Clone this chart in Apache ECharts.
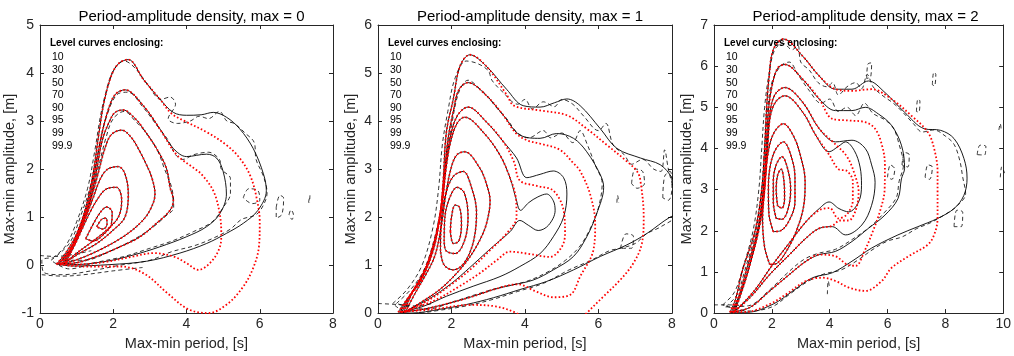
<!DOCTYPE html>
<html>
<head>
<meta charset="utf-8">
<title>Period-amplitude density</title>
<script src="https://cdn.jsdelivr.net/npm/echarts@6/dist/echarts.min.js"></script>
<style>
  html, body { margin: 0; padding: 0; background: #fff; }
  #chart { width: 1014px; height: 356px; }
</style>
</head>
<body>
<div id="chart"></div>
<script>
// titles, levels and axis ranges
var titles = ['Period-amplitude density, max = 0', 'Period-amplitude density, max = 1', 'Period-amplitude density, max = 2'];
var levels = ['10', '30', '50', '70', '90', '95', '99', '99.9'];
var xMax = [8, 8, 10];
var yMin = [-1, 0, 0];
var yMax = [5, 6, 7];

// ---- panel 1 (max = 0) : curves for levels 10..99.9, [period, amplitude]
var p1L10 = [[1.55,0.8],[1.68,0.95],[1.8,0.98],[1.83,0.85],[1.72,0.75],[1.55,0.8]];
var p1L30 = [[1.25,0.55],[1.45,0.85],[1.65,1.1],[1.82,1.21],[1.97,1.1],[1.95,0.85],[1.75,0.65],[1.45,0.5],[1.25,0.55]];
var p1L50 = [[0.7,0.05],[1.0,0.5],[1.3,1.0],[1.55,1.35],[1.8,1.58],[2.09,1.62],[2.23,1.35],[2.14,1.0],[1.82,0.73],[1.36,0.45],[0.95,0.22],[0.7,0.05]];
var p1L70 = [[0.65,0.04],[0.95,0.45],[1.2,0.9],[1.45,1.4],[1.65,1.8],[1.85,2.0],[2.14,2.05],[2.32,1.9],[2.41,1.48],[2.32,1.0],[2.0,0.73],[1.55,0.45],[1.09,0.25],[0.65,0.04]];
var p1L90 = [[0.6,0.03],[0.9,0.4],[1.15,0.85],[1.4,1.4],[1.6,1.95],[1.78,2.45],[1.95,2.72],[2.23,2.81],[2.5,2.65],[2.73,2.36],[2.9,2.1],[3.05,1.83],[3.14,1.48],[3.0,1.14],[2.73,0.87],[2.27,0.59],[1.64,0.32],[1.0,0.11],[0.6,0.03]];
var p1L95 = [[0.55,0.03],[0.85,0.35],[1.1,0.75],[1.35,1.3],[1.55,2.0],[1.7,2.6],[1.9,3.0],[2.05,3.18],[2.27,3.23],[2.6,3.05],[2.82,2.84],[3.18,2.43],[3.45,2.02],[3.55,1.62],[3.64,1.35],[3.55,1.14],[3.18,0.87],[2.73,0.59],[2.18,0.38],[1.55,0.18],[0.91,0.04],[0.55,0.03]];
var p1L99 = [[0.5,0.03],[0.8,0.3],[1.05,0.7],[1.3,1.25],[1.5,1.95],[1.65,2.6],[1.85,3.2],[2.05,3.55],[2.32,3.65],[2.82,3.32],[3.27,2.84],[3.64,2.43],[4.0,2.26],[4.55,2.31],[4.82,2.23],[5.0,1.95],[5.09,1.48],[4.91,1.07],[4.55,0.8],[4.0,0.59],[3.27,0.38],[2.55,0.21],[1.82,0.08],[0.91,0.01],[0.5,0.03]];
var p1L999 = [[0.45,0.02],[0.7,0.25],[1.0,0.65],[1.25,1.2],[1.45,1.9],[1.6,2.7],[1.75,3.4],[1.95,3.95],[2.15,4.2],[2.41,4.28],[2.82,3.87],[3.27,3.46],[3.64,3.18],[4.0,3.12],[4.4,3.13],[4.73,3.18],[5.09,3.08],[5.45,2.84],[5.82,2.43],[6.1,1.9],[6.18,1.55],[5.95,1.14],[5.55,0.87],[5.09,0.66],[4.55,0.45],[3.82,0.25],[2.91,0.08],[1.91,0.01],[0.9,-0.02],[0.45,0.02]];
var p1Red99 = [[0.5,0.03],[0.8,0.3],[1.05,0.7],[1.3,1.25],[1.5,1.95],[1.65,2.6],[1.85,3.2],[2.05,3.55],[2.32,3.65],[2.82,3.32],[3.3,2.8],[3.73,2.3],[4.18,2.03],[4.4,1.9],[4.73,1.55],[4.9,1.1],[4.95,0.66],[4.9,0.35],[4.64,0.04],[4.32,-0.1],[4.0,0.04],[3.64,0.18],[3.1,0.25],[2.55,0.18],[1.82,0.07],[0.91,0.01],[0.5,0.03]];
var p1Red999 = [[0.45,0.02],[0.7,0.25],[1.0,0.65],[1.25,1.2],[1.45,1.9],[1.6,2.7],[1.75,3.4],[1.95,3.95],[2.15,4.2],[2.41,4.28],[2.82,3.87],[3.27,3.46],[3.6,3.15],[4.0,2.98],[4.55,2.77],[5.09,2.5],[5.45,2.23],[5.73,1.88],[5.9,1.45],[6.0,0.9],[5.98,0.4],[5.8,-0.1],[5.5,-0.5],[5.1,-0.82],[4.6,-1.0],[4.05,-0.92],[3.5,-0.6],[2.85,-0.18],[2.2,-0.03],[1.2,-0.03],[0.45,0.02]];
var p1Dash = [
  [[0.35,0.15],[0.7,0.4],[1.0,0.9],[1.3,1.6],[1.5,2.4],[1.65,3.1],[1.8,3.6],[2.0,4.05],[2.3,4.25],[2.6,4.1],[2.95,3.75],[3.3,3.45],[3.55,3.5],[3.7,3.35],[3.5,3.05],[3.75,2.95],[4.1,3.0],[4.35,3.1],[4.6,3.05],[4.9,3.2],[5.1,3.0],[5.3,2.95],[5.6,2.75],[5.85,2.55],[5.9,2.2],[6.1,1.85],[6.2,1.5],[6.1,1.25],[5.9,1.05],[5.5,0.95],[5.2,0.75],[4.7,0.55],[4.2,0.4],[3.6,0.28],[3.0,0.1],[2.2,0.0],[1.4,-0.12],[0.6,-0.2],[0.1,-0.15],[0.05,0.1],[0.35,0.15]],
  [[0.3,0.1],[0.8,0.45],[1.1,1.0],[1.4,1.7],[1.6,2.4],[1.8,3.05],[2.1,3.55],[2.4,3.6],[2.8,3.3],[3.2,2.9],[3.5,2.6],[3.7,2.3],[3.9,2.2],[4.2,2.3],[4.6,2.35],[4.9,2.2],[4.95,2.0],[5.2,1.8],[5.2,1.5],[5.0,1.2],[4.7,0.9],[4.2,0.7],[3.6,0.5],[3.0,0.35],[2.3,0.18],[1.5,0.05],[0.8,-0.08],[0.3,0.1]],
  [[0.6,0.1],[0.9,0.45],[1.15,0.9],[1.4,1.45],[1.6,2.05],[1.8,2.65],[2.0,3.05],[2.3,3.2],[2.6,3.0],[2.9,2.75],[3.2,2.4],[3.4,2.0],[3.6,1.6],[3.65,1.2],[3.4,1.0],[3.1,0.8],[2.6,0.55],[2.0,0.32],[1.2,0.1],[0.6,0.1]],
  [[0.0,0.2],[0.4,0.18],[0.9,0.22],[1.4,0.3]],
  [[0.05,-0.2],[0.6,-0.23],[1.2,-0.2],[2.0,-0.12],[2.8,-0.05]],
  [[5.55,1.4],[5.7,1.59],[5.95,1.55],[6.0,1.35],[5.8,1.28],[5.55,1.4]],
  [[6.45,1.2],[6.55,1.45],[6.65,1.4],[6.6,1.05],[6.45,0.98],[6.45,1.2]],
  [[6.8,1.05],[6.85,1.15],[6.92,1.05],[6.88,0.95],[6.8,1.05]],
  [[7.33,1.3],[7.37,1.45],[7.36,1.3]]
];

// ---- panel 2 (max = 1)
var p2L10 = [[1.97,1.7],[2.0,2.0],[2.1,2.25],[2.22,2.2],[2.27,1.85],[2.2,1.5],[2.05,1.45],[1.97,1.7]];
var p2L30 = [[1.8,1.5],[1.82,2.0],[1.95,2.4],[2.15,2.62],[2.35,2.5],[2.45,2.0],[2.35,1.5],[2.1,1.24],[1.85,1.3],[1.8,1.5]];
var p2L50 = [[1.7,1.3],[1.72,1.9],[1.85,2.5],[2.05,2.85],[2.32,2.95],[2.55,2.6],[2.68,2.1],[2.6,1.5],[2.35,1.05],[2.05,0.9],[1.8,1.0],[1.7,1.3]];
var p2L70 = [[0.75,0.03],[1.0,0.4],[1.3,0.8],[1.55,1.2],[1.72,1.8],[1.85,2.5],[2.0,3.05],[2.15,3.3],[2.36,3.36],[2.77,3.02],[2.95,2.69],[3.05,2.34],[2.95,1.86],[2.77,1.52],[2.5,1.17],[2.14,0.83],[1.68,0.49],[1.14,0.21],[0.75,0.03]];
var p2L90 = [[0.7,0.02],[0.95,0.45],[1.3,0.95],[1.58,1.6],[1.75,2.3],[1.85,3.0],[1.97,3.55],[2.15,3.95],[2.36,4.08],[2.86,3.77],[3.32,3.29],[3.6,2.8],[3.75,2.4],[3.88,2.14],[4.1,2.3],[4.35,2.42],[4.59,2.48],[4.77,2.34],[4.82,2.14],[4.64,1.83],[4.36,1.72],[4.09,1.83],[3.86,1.93],[3.6,1.7],[3.3,1.5],[3.0,1.3],[2.5,0.95],[2.0,0.62],[1.4,0.3],[0.7,0.02]];
var p2L95 = [[0.65,0.02],[0.9,0.4],[1.25,0.85],[1.55,1.5],[1.72,2.2],[1.82,2.9],[1.95,3.6],[2.15,4.1],[2.45,4.29],[2.95,3.98],[3.41,3.57],[3.77,3.23],[4.05,2.82],[4.41,2.89],[4.77,2.96],[5.05,2.82],[5.14,2.48],[5.05,2.0],[4.77,1.59],[4.41,1.24],[3.86,0.97],[3.32,0.76],[2.59,0.56],[1.86,0.35],[1.23,0.14],[0.65,0.02]];
var p2L99 = [[0.6,0.02],[0.85,0.35],[1.2,0.75],[1.5,1.4],[1.7,2.1],[1.8,2.8],[1.9,3.6],[2.05,4.2],[2.2,4.65],[2.45,4.8],[2.95,4.53],[3.41,4.12],[3.86,3.71],[4.41,3.64],[4.86,3.74],[5.32,3.64],[5.68,3.36],[6.05,2.88],[6.14,2.62],[5.95,2.07],[5.68,1.59],[5.32,1.18],[4.77,0.9],[4.23,0.69],[3.68,0.59],[3.14,0.49],[2.59,0.35],[1.95,0.21],[1.23,0.08],[0.6,0.02]];
var p2L999 = [[0.55,0.02],[0.8,0.3],[1.15,0.65],[1.5,1.3],[1.68,2.0],[1.77,2.7],[1.86,3.77],[2.05,4.46],[2.23,5.14],[2.5,5.38],[2.95,5.14],[3.5,4.66],[3.95,4.32],[4.41,4.29],[4.8,4.38],[5.14,4.46],[5.5,4.32],[6.05,3.84],[6.5,3.43],[7.14,3.23],[7.68,3.09],[8.0,2.82],[8.3,2.4],[8.3,2.1],[7.95,2.0],[7.32,1.66],[6.77,1.42],[6.05,1.18],[5.32,0.9],[4.59,0.66],[3.86,0.49],[3.14,0.32],[2.41,0.18],[1.68,0.08],[0.9,0.0],[0.55,0.02]];
var p2Red90 = [[0.7,0.02],[0.95,0.45],[1.3,0.95],[1.58,1.6],[1.75,2.3],[1.85,3.0],[1.97,3.55],[2.15,3.95],[2.36,4.08],[2.86,3.77],[3.32,3.29],[3.6,2.8],[3.75,2.4],[3.77,2.0],[3.5,1.66],[3.05,1.31],[2.5,0.9],[2.0,0.6],[1.4,0.28],[0.7,0.02]];
var p2Red95 = [[0.65,0.02],[0.9,0.4],[1.25,0.85],[1.55,1.5],[1.72,2.2],[1.82,2.9],[1.95,3.6],[2.15,4.1],[2.45,4.29],[2.95,3.98],[3.41,3.57],[3.7,3.15],[3.86,2.76],[4.32,2.65],[4.77,2.55],[5.05,2.14],[5.09,1.66],[5.0,1.38],[4.68,1.17],[4.05,1.24],[3.59,1.28],[3.23,1.1],[2.77,0.83],[2.2,0.55],[1.5,0.25],[0.65,0.02]];
var p2Red99 = [[0.6,0.02],[0.85,0.35],[1.2,0.75],[1.5,1.4],[1.7,2.1],[1.8,2.8],[1.9,3.6],[2.05,4.2],[2.2,4.65],[2.45,4.8],[2.95,4.53],[3.41,4.12],[3.75,3.75],[4.05,3.6],[4.41,3.53],[4.95,3.4],[5.32,3.12],[5.5,2.96],[5.77,2.48],[5.91,1.86],[5.86,1.31],[5.5,0.76],[5.23,0.38],[4.77,0.33],[4.3,0.45],[3.8,0.6],[3.14,0.49],[2.59,0.35],[1.95,0.21],[1.23,0.08],[0.6,0.02]];
var p2Red999 = [[0.55,0.02],[0.8,0.3],[1.15,0.65],[1.5,1.3],[1.68,2.0],[1.77,2.7],[1.86,3.77],[2.05,4.46],[2.23,5.14],[2.5,5.38],[2.95,5.14],[3.5,4.55],[3.7,4.32],[4.41,4.22],[5.14,4.12],[5.68,3.84],[6.23,3.5],[6.77,3.16],[7.05,2.95],[7.14,2.76],[7.23,2.0],[7.18,1.45],[6.95,1.04],[6.59,0.69],[6.14,0.35],[5.68,0.0],[5.2,-0.4],[4.5,-0.5],[3.9,-0.1],[3.77,0.0],[3.2,0.14],[2.5,0.17],[1.5,0.08],[0.55,0.02]];
var p2Dash = [
  [[0.4,0.2],[0.8,0.5],[1.2,1.0],[1.5,1.8],[1.65,2.6],[1.75,3.5],[1.9,4.2],[2.1,4.9],[2.4,5.25],[2.7,5.2],[3.0,5.05],[3.1,4.85],[3.4,4.6],[3.8,4.35],[4.0,4.45],[4.2,4.25],[4.5,4.4],[4.8,4.3],[5.0,4.45],[5.3,4.35],[5.6,4.1],[6.0,3.8],[6.2,3.95],[6.4,3.5],[6.7,3.3],[6.9,3.1],[7.2,3.2],[7.5,3.0],[7.7,2.95],[7.8,3.4],[7.9,3.0],[8.0,2.7],[8.1,2.4],[8.1,2.05],[7.7,1.8],[7.3,1.65],[7.0,1.45],[6.6,1.35],[6.3,1.3],[5.8,1.1],[5.2,0.9],[4.5,0.62],[3.8,0.45],[3.1,0.28],[2.4,0.15],[1.6,0.05],[0.9,-0.02],[0.4,0.2]],
  [[0.5,0.2],[0.9,0.5],[1.25,0.9],[1.55,1.6],[1.75,2.4],[1.85,3.2],[2.0,3.9],[2.2,4.6],[2.45,4.85],[2.8,4.65],[3.0,4.5],[3.2,4.3],[3.5,4.05],[3.8,3.75],[4.1,3.65],[4.5,3.8],[4.7,3.65],[5.0,3.75],[5.3,3.55],[5.5,3.8],[5.7,3.5],[5.9,3.1],[6.1,2.7],[6.0,2.2],[5.8,1.8],[5.5,1.4],[5.1,1.1],[4.6,0.85],[4.0,0.65],[3.4,0.55],[2.8,0.42],[2.1,0.25],[1.3,0.08],[0.5,0.2]],
  [[0.0,0.2],[0.5,0.18],[1.0,0.15],[1.5,0.2]],
  [[6.9,2.7],[7.0,3.0],[7.2,2.95],[7.25,2.7],[7.05,2.6],[6.9,2.7]],
  [[7.75,2.4],[7.8,2.85],[7.95,2.95],[8.0,2.6],[7.9,2.35],[7.75,2.4]],
  [[6.5,2.3],[6.52,2.45],[6.55,2.3]],
  [[6.6,1.35],[6.75,1.65],[6.95,1.6],[6.9,1.35],[6.6,1.35]]
];

// ---- panel 3 (max = 2)
var p3L10 = [[2.2,2.6],[2.15,3.0],[2.2,3.35],[2.32,3.5],[2.42,3.2],[2.44,2.8],[2.35,2.55],[2.2,2.6]];
var p3L30 = [[2.15,2.3],[2.05,2.7],[2.05,3.2],[2.15,3.6],[2.35,3.8],[2.55,3.5],[2.65,3.0],[2.55,2.5],[2.35,2.28],[2.15,2.3]];
var p3L50 = [[2.05,1.98],[1.9,2.4],[1.88,3.0],[1.95,3.6],[2.15,4.0],[2.4,4.16],[2.65,3.85],[2.8,3.3],[2.8,2.7],[2.6,2.25],[2.3,2.0],[2.05,1.98]];
var p3L70 = [[1.93,1.18],[1.75,1.6],[1.68,2.3],[1.75,3.0],[1.85,3.8],[2.05,4.35],[2.4,4.6],[2.75,4.3],[3.0,3.8],[3.15,3.2],[3.1,2.6],[2.85,2.0],[2.5,1.5],[2.15,1.2],[1.93,1.18]];
var p3L90 = [[0.7,0.02],[0.95,0.5],[1.25,1.2],[1.6,2.2],[1.77,3.2],[1.86,4.1],[1.95,4.8],[2.15,5.15],[2.45,5.28],[3.07,4.88],[3.52,4.32],[3.98,3.92],[4.3,4.05],[4.55,4.16],[4.85,3.95],[5.05,3.55],[5.1,3.1],[5.0,2.7],[4.66,2.46],[4.32,2.54],[3.98,2.7],[3.64,2.54],[3.18,2.22],[2.6,1.7],[2.0,1.15],[1.4,0.55],[0.7,0.02]];
var p3L95 = [[0.65,0.02],[0.9,0.45],[1.2,1.1],[1.55,2.1],[1.73,3.1],[1.83,4.0],[1.92,4.8],[2.1,5.3],[2.45,5.48],[3.07,5.12],[3.64,4.48],[4.2,4.16],[4.77,4.2],[5.23,4.0],[5.45,3.6],[5.57,3.18],[5.45,2.62],[5.11,2.14],[4.55,1.9],[4.09,2.1],[3.64,2.06],[3.18,1.82],[2.61,1.42],[1.93,0.94],[1.25,0.38],[0.65,0.02]];
var p3L99 = [[0.6,0.02],[0.85,0.4],[1.1,1.0],[1.5,2.0],[1.7,3.0],[1.8,4.0],[1.88,4.9],[2.0,5.5],[2.2,5.95],[2.45,6.04],[3.07,5.68],[3.64,5.2],[4.2,4.92],[4.77,4.92],[5.23,5.0],[5.68,4.84],[6.14,4.56],[6.48,4.08],[6.59,3.52],[6.48,3.26],[6.36,2.78],[5.91,2.38],[5.34,2.06],[4.77,1.74],[4.2,1.5],[3.64,1.42],[3.18,1.26],[2.61,0.94],[1.93,0.54],[1.25,0.14],[0.6,0.02]];
var p3L999 = [[0.55,0.02],[0.75,0.35],[0.97,1.0],[1.42,2.0],[1.65,3.0],[1.75,4.0],[1.82,5.0],[1.9,5.7],[2.05,6.4],[2.4,6.66],[3.07,6.24],[3.64,5.76],[4.2,5.44],[4.77,5.44],[5.34,5.64],[5.91,5.36],[6.59,4.88],[7.27,4.48],[7.84,4.44],[8.3,4.24],[8.64,3.76],[8.75,3.28],[8.64,2.86],[8.3,2.54],[7.73,2.3],[7.05,2.1],[6.36,1.9],[5.45,1.58],[4.77,1.26],[4.09,0.98],[3.41,0.86],[2.73,0.54],[2.05,0.22],[1.14,0.02],[0.55,0.02]];
var p3Red90 = [[0.7,0.02],[0.95,0.5],[1.25,1.2],[1.6,2.2],[1.77,3.2],[1.86,4.1],[1.95,4.8],[2.15,5.15],[2.45,5.28],[3.07,4.88],[3.52,4.32],[3.98,3.85],[4.3,3.5],[4.6,3.45],[4.8,3.2],[4.8,2.75],[4.6,2.4],[4.3,2.3],[4.0,2.55],[3.64,2.5],[3.18,2.22],[2.6,1.7],[2.0,1.15],[1.4,0.55],[0.7,0.02]];
var p3Red95 = [[0.65,0.02],[0.9,0.45],[1.2,1.1],[1.55,2.1],[1.73,3.1],[1.83,4.0],[1.92,4.8],[2.1,5.3],[2.45,5.48],[3.07,5.12],[3.64,4.48],[4.2,4.1],[4.6,3.8],[4.85,3.4],[5.0,2.95],[4.9,2.5],[4.65,2.25],[4.35,2.25],[4.09,2.12],[3.64,2.06],[3.18,1.82],[2.61,1.42],[1.93,0.94],[1.25,0.38],[0.65,0.02]];
var p3Red99 = [[0.6,0.02],[0.85,0.4],[1.1,1.0],[1.5,2.0],[1.7,3.0],[1.8,4.0],[1.88,4.9],[2.0,5.5],[2.2,5.95],[2.45,6.04],[3.07,5.68],[3.64,5.2],[4.09,4.72],[4.66,4.68],[5.23,4.64],[5.57,4.48],[5.8,4.1],[5.91,3.6],[5.9,3.0],[5.75,2.5],[5.5,2.0],[5.2,1.5],[4.9,1.15],[4.6,1.18],[4.2,1.38],[3.64,1.42],[3.18,1.26],[2.61,0.94],[1.93,0.54],[1.25,0.14],[0.6,0.02]];
var p3Red999 = [[0.55,0.02],[0.75,0.35],[0.97,1.0],[1.42,2.0],[1.65,3.0],[1.75,4.0],[1.82,5.0],[1.9,5.7],[2.05,6.4],[2.4,6.66],[3.07,6.24],[3.64,5.76],[4.2,5.44],[4.77,5.4],[5.45,5.44],[6.14,5.2],[6.82,4.8],[7.39,4.4],[7.61,4.0],[7.73,3.44],[7.73,3.02],[7.73,2.3],[7.61,1.9],[7.39,1.66],[6.82,1.42],[6.14,1.1],[5.8,0.78],[5.23,0.54],[4.66,0.62],[4.2,0.78],[3.75,0.86],[3.18,0.78],[2.5,0.46],[1.93,0.22],[1.14,0.03],[0.55,0.02]];
var p3Dash = [
  [[0.3,0.2],[0.7,0.5],[1.0,1.1],[1.35,2.0],[1.55,3.0],[1.65,4.0],[1.75,5.0],[1.9,5.8],[2.1,6.4],[2.4,6.55],[2.7,6.4],[2.9,6.5],[3.0,6.1],[3.3,5.9],[3.6,5.6],[3.9,5.5],[4.1,5.6],[4.3,5.3],[4.6,5.5],[4.9,5.6],[5.1,5.45],[5.3,5.8],[5.5,5.5],[5.8,5.3],[6.2,5.1],[6.5,4.9],[6.9,4.6],[7.2,4.4],[7.6,4.45],[8.0,4.3],[8.3,4.1],[8.5,3.7],[8.6,3.3],[8.7,2.9],[8.4,2.6],[8.0,2.4],[7.5,2.2],[7.0,2.05],[6.5,1.85],[6.0,1.75],[5.5,1.55],[5.0,1.3],[4.4,1.05],[3.8,0.95],[3.2,0.75],[2.6,0.45],[2.0,0.15],[1.2,0.05],[0.3,0.2]],
  [[0.4,0.15],[0.8,0.45],[1.05,1.0],[1.45,2.0],[1.65,3.0],[1.75,4.0],[1.85,4.9],[2.0,5.6],[2.3,6.0],[2.6,6.1],[2.9,5.8],[3.3,5.4],[3.7,5.1],[4.0,5.2],[4.3,4.9],[4.6,5.0],[4.9,4.8],[5.2,5.1],[5.5,4.85],[5.9,4.7],[6.2,4.5],[6.4,4.1],[6.55,3.6],[6.4,3.2],[6.3,2.8],[5.9,2.45],[5.4,2.1],[4.8,1.8],[4.2,1.55],[3.6,1.45],[3.1,1.3],[2.5,0.95],[1.9,0.55],[1.2,0.18],[0.4,0.15]],
  [[0.0,0.2],[0.5,0.2],[1.0,0.18]],
  [[5.28,5.7],[5.32,6.05],[5.45,6.08],[5.42,5.75],[5.28,5.7]],
  [[7.55,5.55],[7.6,5.85],[7.67,5.8],[7.62,5.52],[7.55,5.55]],
  [[7.0,4.9],[7.05,5.2],[7.12,5.15],[7.08,4.88],[7.0,4.9]],
  [[9.1,3.85],[9.2,4.08],[9.4,4.05],[9.35,3.84],[9.1,3.85]],
  [[9.85,4.45],[9.9,4.6],[9.93,4.45]],
  [[9.9,3.3],[9.95,3.55],[10.05,3.4]],
  [[8.3,2.1],[8.4,2.5],[8.6,2.45],[8.55,2.1],[8.3,2.1]],
  [[3.92,0.46],[3.95,0.78],[4.0,0.6]],
  [[6.5,3.6],[6.6,3.9],[6.75,3.85],[6.7,3.55],[6.5,3.6]],
  [[6.0,3.3],[6.1,3.6],[6.25,3.5],[6.15,3.25],[6.0,3.3]],
  [[7.3,3.3],[7.4,3.6],[7.55,3.55],[7.45,3.25],[7.3,3.3]]
];

var p1Solid = [p1L10, p1L30, p1L50, p1L70, p1L90, p1L95, p1L99, p1L999];
var p1Red = [p1L10, p1L30, p1L50, p1L70, p1L90, p1L95, p1Red99, p1Red999];
var p2Solid = [p2L10, p2L30, p2L50, p2L70, p2L90, p2L95, p2L99, p2L999];
var p2Red = [p2L10, p2L30, p2L50, p2L70, p2Red90, p2Red95, p2Red99, p2Red999];
var p3Solid = [p3L10, p3L30, p3L50, p3L70, p3L90, p3L95, p3L99, p3L999];
var p3Red = [p3L10, p3L30, p3L50, p3L70, p3Red90, p3Red95, p3Red99, p3Red999];

var gridLeft = [40, 378, 714];
var gridW = [293, 294, 293];
var axisColor = '#262626';
var font = 'Liberation Sans, Arial, sans-serif';

var chart = echarts.init(document.getElementById('chart'), null, { renderer: 'canvas' });

function lines(list, idx, style, z) {
  return list.map(function (d) {
    return {
      type: 'line', data: d, xAxisIndex: idx, yAxisIndex: idx,
      showSymbol: false, smooth: 0.35, silent: true, z: z,
      lineStyle: style
    };
  });
}

var series = [];
var sets = [[p1Solid, p1Red, p1Dash], [p2Solid, p2Red, p2Dash], [p3Solid, p3Red, p3Dash]];
sets.forEach(function (s, i) {
  series = series.concat(lines(s[2], i, { color: '#000', width: 0.8, type: [4, 3] }, 3));
  series = series.concat(lines(s[0], i, { color: '#000', width: 0.9 }, 4));
  series = series.concat(lines(s[1], i, { color: '#ff0000', width: 1.8, type: [1.6, 2.2] }, 5));
});

var grids = [], xAxes = [], yAxes = [], titleOpts = [], graphics = [];
for (var i = 0; i < 3; i++) {
  grids.push({ left: gridLeft[i], top: 25, width: gridW[i], height: 292 });
  titleOpts.push({
    text: titles[i], left: gridLeft[i] + gridW[i] / 2, top: 4, textAlign: 'center',
    textStyle: { fontSize: 15, fontWeight: 'normal', color: '#000', fontFamily: font }
  });
  graphics.push({
    type: 'text', left: gridLeft[i] + 10, top: 38, z: 1,
    style: { text: 'Level curves enclosing:', font: 'bold 10px ' + font, fill: '#000' }
  });
  levels.forEach(function (lv, k) {
    graphics.push({
      type: 'text', left: gridLeft[i] + 12, top: 52 + k * 12.6, z: 1,
      style: { text: lv, font: '10.5px ' + font, fill: '#000' }
    });
  });
}
for (var i = 0; i < 3; i++) {
  xAxes.push({
    type: 'value', gridIndex: i, min: 0, max: xMax[i], interval: 2, position: 'bottom',
    name: 'Max-min period, [s]', nameLocation: 'middle', nameGap: 20,
    nameTextStyle: { fontSize: 14.5, color: axisColor, fontFamily: font },
    axisLine: { onZero: false, lineStyle: { color: axisColor } },
    axisTick: { inside: true, length: 4, lineStyle: { color: axisColor } },
    axisLabel: { fontSize: 14, color: axisColor, fontFamily: font, margin: 4 },
    splitLine: { show: false }
  });
  yAxes.push({
    type: 'value', gridIndex: i, min: yMin[i], max: yMax[i], interval: 1, position: 'left',
    name: 'Max-min amplitude, [m]', nameLocation: 'middle', nameGap: 20,
    nameTextStyle: { fontSize: 14.5, color: axisColor, fontFamily: font },
    axisLine: { onZero: false, lineStyle: { color: axisColor } },
    axisTick: { inside: true, length: 4, lineStyle: { color: axisColor } },
    axisLabel: { fontSize: 14, color: axisColor, fontFamily: font, margin: 6 },
    splitLine: { show: false }
  });
}
for (var i = 0; i < 3; i++) {
  xAxes.push({
    type: 'value', gridIndex: i, min: 0, max: xMax[i], interval: 2, position: 'top',
    axisLine: { onZero: false, lineStyle: { color: axisColor } },
    axisTick: { inside: true, length: 4, lineStyle: { color: axisColor } },
    axisLabel: { show: false }, splitLine: { show: false }
  });
  yAxes.push({
    type: 'value', gridIndex: i, min: yMin[i], max: yMax[i], interval: 1, position: 'right',
    axisLine: { onZero: false, lineStyle: { color: axisColor } },
    axisTick: { inside: true, length: 4, lineStyle: { color: axisColor } },
    axisLabel: { show: false }, splitLine: { show: false }
  });
}

chart.setOption({
  animation: false,
  backgroundColor: '#fff',
  title: titleOpts,
  grid: grids,
  xAxis: xAxes,
  yAxis: yAxes,
  graphic: graphics,
  series: series
});
</script>
</body>
</html>
